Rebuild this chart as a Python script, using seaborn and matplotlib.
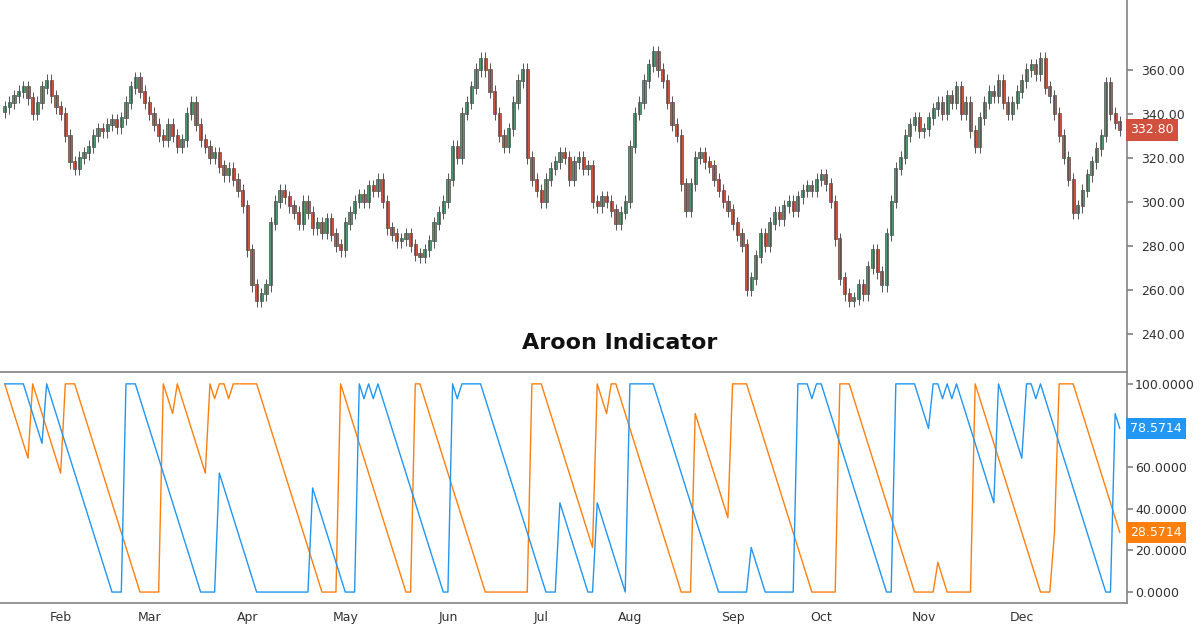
import numpy as np
import pandas as pd
import matplotlib
matplotlib.use("Agg")
import matplotlib.pyplot as plt
import seaborn as sns

sns.set_theme(style="white")
plt.rcParams['font.family'] = ['DejaVu Sans']

months = ["Feb", "Mar", "Apr", "May", "Jun", "Jul", "Aug", "Sep", "Oct", "Nov", "Dec"]
jan = [343,345,348,350,352,347,340,345,352,355,348,343]
feb = [340,330,318,315,320,322,325,330,333,332,335,337,334,338,345,352,356,350,345]
mar = [340,335,330,328,335,330,325,328,340,345,335,328,325,320,322,316,312,315,310,305,298]
apr = [278,262,255,258,262,290,300,305,302,298,295,290,300,295,288,290,286,292,285,280,278]
may = [290,295,300,303,300,307,305,310,300,288,285,282,283,285,280,276,275,278,282,290,295,300]
jun = [310,325,320,340,345,352,360,365,360,350,340,330,325,333,345,355,360,320,310,305]
jul = [300,310,315,318,322,320,310,318,320,315,316,300,298,302,300,296,290,295,300]
aug = [325,340,345,355,362,368,360,355,345,335,330,308,296,308,320,322,318,316,310,305,300,296]
sep = [290,285,280,260,265,275,285,280,290,295,292,298,300,296,302,305,307,305,310]
oct_ = [312,308,300,283,265,258,255,256,262,258,270,278,268,262,285,300,315,320,330,335,338,332]
nov = [333,338,342,345,340,348,345,352,340,345,332,325,338,345,350,348,355,345,340,345,350]
dec = [355,360,362,358,365,352,348,340,330,320,310,295,298,305,312,318,324,330,354,340,336,332.8]
segments = [jan, feb, mar, apr, may, jun, jul, aug, sep, oct_, nov, dec]

close = np.array(sum(segments, []), dtype=float)
opn = np.r_[close[0] - 2, close[:-1]]
high = np.maximum(opn, close) + 3
low = np.minimum(opn, close) - 3
n = len(close)
idx = np.arange(n)
month_starts = np.cumsum([len(s) for s in segments])[:-1]

period = 14
up = np.zeros(n); dn = np.zeros(n)
for i in range(n):
    s = max(0, i - period)
    w_h = high[s:i + 1]; w_l = low[s:i + 1]
    up[i] = (period - (len(w_h) - 1 - np.argmax(w_h))) / period * 100
    dn[i] = (period - (len(w_l) - 1 - np.argmin(w_l))) / period * 100
up = np.clip(up, 0, 100); dn = np.clip(dn, 0, 100)

fig = plt.figure(figsize=(12, 6.28), dpi=100)
ax1 = fig.add_axes([0, 0.408, 0.939, 0.592])
ax2 = fig.add_axes([0, 0.040, 0.939, 0.366])

green, red = "#4e9a6e", "#d2503e"
cols = np.where(close >= opn, green, red)
ax1.vlines(idx, low, high, color="#555555", lw=0.7)
ax1.bar(idx, np.abs(close - opn) + 0.6, bottom=np.minimum(opn, close), color=cols,
        width=0.7, edgecolor="#333333", linewidth=0.4)
ax1.set_ylim(222.7, 391.8)
ax1.set_xlim(-1, n + 0.5)
ax1.yaxis.tick_right()
ax1.set_yticks(np.arange(240, 361, 20))
ax1.set_yticklabels([f"{v:.2f}" for v in np.arange(240, 361, 20)], fontsize=9, color="#333")
ax1.set_xticks([])
for s in ["top", "left"]:
    ax1.spines[s].set_visible(False)
ax1.spines["right"].set_color("#888"); ax1.spines["bottom"].set_color("#888")
ax1.tick_params(axis="y", length=4, color="#888", pad=6)
ax1.text(0.55, 0.06, "Aroon Indicator", transform=ax1.transAxes, ha="center",
         fontsize=16, fontweight="bold", color="#111")
ax1.text(1.003, (close[-1] - 222.7) / (391.8 - 222.7), f"{close[-1]:.2f}", transform=ax1.transAxes,
         va="center", ha="left", fontsize=9, color="white",
         bbox=dict(boxstyle="square,pad=0.35", fc="#d2503e", ec="none"))

df = pd.DataFrame({"i": idx, "up": up, "dn": dn})
sns.lineplot(data=df, x="i", y="dn", ax=ax2, color="#ff7f0e", lw=1)
sns.lineplot(data=df, x="i", y="up", ax=ax2, color="#2196f3", lw=1)
ax2.set_ylim(-5.2, 105.2)
ax2.set_xlim(-1, n + 0.5)
ax2.yaxis.tick_right()
ax2.set_yticks(np.arange(0, 101, 20))
ax2.set_yticklabels([f"{v:.4f}" for v in np.arange(0, 101, 20)], fontsize=9, color="#333")
ax2.set_xticks(month_starts)
ax2.set_xticklabels(months, fontsize=9, color="#333")
ax2.set_xlabel(""); ax2.set_ylabel("")
for s in ["top", "left"]:
    ax2.spines[s].set_visible(False)
ax2.spines["right"].set_color("#888"); ax2.spines["bottom"].set_color("#888")
ax2.tick_params(length=4, color="#888", pad=2)
for val, c in [(up[-1], "#2196f3"), (dn[-1], "#ff7f0e")]:
    ax2.text(1.003, (val + 5.2) / 110.4, f"{val:.4f}", transform=ax2.transAxes, va="center",
             ha="left", fontsize=9, color="white",
             bbox=dict(boxstyle="square,pad=0.35", fc=c, ec="none"))

fig.savefig("out.png", dpi=100)
